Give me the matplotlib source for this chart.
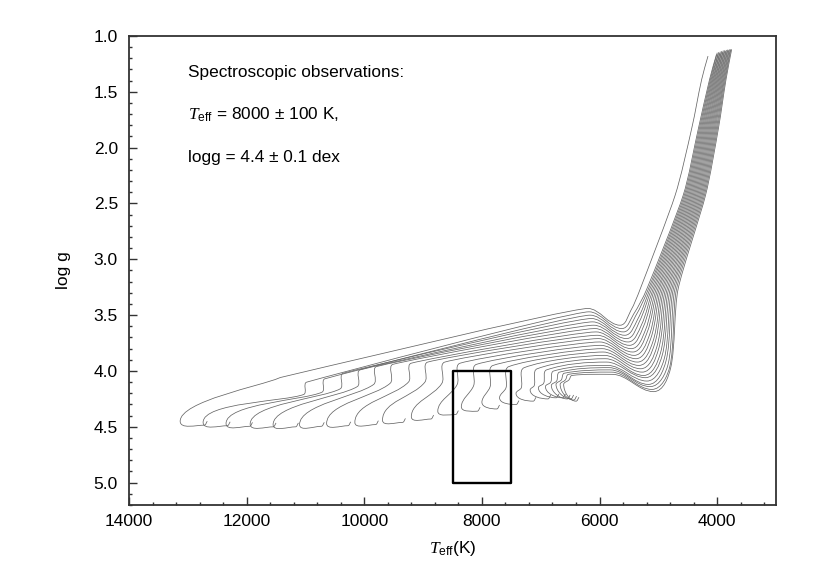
import numpy as np
import matplotlib
matplotlib.use("Agg")
import matplotlib.pyplot as plt
from matplotlib.path import Path
from matplotlib.patches import PathPatch, Rectangle
from matplotlib.ticker import MultipleLocator, FormatStrFormatter

plt.rcParams['font.family'] = ['Liberation Sans', 'DejaVu Sans']
plt.rcParams['mathtext.fontset'] = 'custom'
plt.rcParams['mathtext.rm'] = 'Liberation Sans'
plt.rcParams['mathtext.sf'] = 'Liberation Sans'
plt.rcParams['mathtext.it'] = 'Liberation Serif:italic'
plt.rcParams['mathtext.bf'] = 'Liberation Sans:bold'

# ---------------- data: key points of each evolutionary track -------------
# top of the Hayashi / giant branch
top_T = [4156, 4012, 3999, 3986, 3973, 3960, 3947, 3934, 3921, 3908, 3896, 3883, 3870, 3857, 3844, 3831, 3818, 3805, 3792, 3779, 3767, 3754]
top_g = [1.18, 1.165, 1.150, 1.160, 1.145, 1.155, 1.140, 1.150, 1.135, 1.145, 1.130, 1.140, 1.128, 1.136, 1.125, 1.132, 1.122, 1.128, 1.120, 1.125, 1.118, 1.120]
# Teff of each track where it crosses these log g levels
rgb_levels = [1.39, 1.83, 2.43, 3.27]
rgb139 = [4264, 4130, 4116, 4102, 4088, 4074, 4060, 4046, 4032, 4018, 4004, 3990, 3976, 3962, 3948, 3934, 3920, 3906, 3892, 3878, 3864, 3850]
rgb183 = [4434, 4320, 4303, 4286, 4269, 4252, 4235, 4218, 4201, 4184, 4167, 4150, 4133, 4116, 4099, 4082, 4065, 4048, 4031, 4014, 3997, 3980]
rgb243 = [4717, 4580, 4561, 4542, 4523, 4504, 4485, 4466, 4447, 4428, 4409, 4390, 4371, 4352, 4333, 4314, 4295, 4276, 4257, 4238, 4219, 4200]
rgb327 = [5312, 5200, 5173, 5147, 5120, 5093, 5067, 5040, 5013, 4987, 4960, 4933, 4907, 4880, 4853, 4827, 4800, 4773, 4747, 4720, 4693, 4666]
# bend at the bottom of the giant branch
corner_T = [5470, 5420, 5390, 5355, 5325, 5290, 5260, 5225, 5195, 5160, 5130, 5095, 5065, 5030, 5000, 4965, 4935, 4900, 4870, 4835, 4805, 4790]
corner_g = [3.46, 3.49, 3.51, 3.54, 3.56, 3.59, 3.61, 3.64, 3.66, 3.69, 3.71, 3.74, 3.76, 3.79, 3.81, 3.84, 3.86, 3.89, 3.91, 3.94, 3.96, 3.97]
# knee (largest log g of the S-bend)
knee_T = [5650, 5620, 5595, 5570, 5540, 5515, 5490, 5460, 5435, 5410, 5380, 5355, 5330, 5300, 5275, 5250, 5220, 5195, 5170, 5140, 5110, 5080]
knee_g = [3.59, 3.62, 3.65, 3.68, 3.71, 3.74, 3.77, 3.80, 3.83, 3.86, 3.89, 3.92, 3.95, 3.98, 4.01, 4.04, 4.06, 4.09, 4.12, 4.14, 4.165, 4.185]
# bump (smallest log g of the S-bend)
bump_T = [6200, 6180, 6160, 6140, 6120, 6100, 6080, 6060, 6040, 6020, 6000, 5980, 5960, 5940, 5920, 5900, 5880, 5860, 5840, 5820, 5800, 5780]
bump_g = [3.44, 3.47, 3.50, 3.53, 3.56, 3.59, 3.62, 3.65, 3.68, 3.71, 3.74, 3.77, 3.80, 3.83, 3.86, 3.89, 3.92, 3.95, 3.97, 3.99, 4.01, 4.03]
# hook on the radiative track
hook_T = [11400, 10980, 10670, 10360, 10070, 9790, 9510, 9200, 8920, 8630, 8370, 8090, 7810, 7540, 7280, 7060, 6900, 6780, 6680, 6600, 6530, 6470]
hook_top = [4.055, 4.10, 4.07, 4.02, 3.99, 3.96, 3.94, 3.93, 3.92, 3.92, 3.93, 3.94, 3.95, 3.96, 3.97, 3.98, 3.99, 4.00, 4.01, 4.02, 4.03, 4.04]
hook_bot = [4.063, 4.21, 4.19, 4.16, 4.14, 4.12, 4.11, 4.10, 4.10, 4.11, 4.12, 4.13, 4.14, 4.15, 4.15, 4.13, 4.11, 4.10, 4.09, 4.08, 4.08, 4.08]
# hottest point of each track
tip_T = [13130, 12740, 12350, 11940, 11550, 11100, 10640, 10160, 9690, 9200, 8750, 8350, 8000, 7700, 7420, 7180, 7040, 6920, 6820, 6740, 6670, 6610]
tip_g = [4.45, 4.46, 4.47, 4.475, 4.48, 4.48, 4.47, 4.46, 4.44, 4.41, 4.36, 4.32, 4.28, 4.24, 4.20, 4.17, 4.15, 4.14, 4.13, 4.12, 4.12, 4.12]
# end of each track
zams_T = [12720, 12330, 11950, 11550, 11170, 10730, 10280, 9810, 9350, 8870, 8450, 8080, 7750, 7420, 7130, 6880, 6740, 6630, 6550, 6490, 6440, 6400]
zams_g = [4.485, 4.49, 4.495, 4.50, 4.50, 4.495, 4.49, 4.48, 4.46, 4.43, 4.39, 4.36, 4.34, 4.30, 4.27, 4.25, 4.24, 4.24, 4.25, 4.25, 4.26, 4.27]

# observational box
box_teff = [7500, 8500]
box_logg = [4.0, 5.0]

# ---------------- figure ----------------
fig = plt.figure(figsize=(8.3, 5.87), dpi=100)
ax = fig.add_axes([129 / 830, 82 / 587, 647 / 830, 469 / 587])
ax.set_xlim(14000, 3000)
ax.set_ylim(5.2, 1.0)


def smooth_path(T, g, arm_max=20.0):
    P = ax.transData.transform(np.column_stack([T, g]))
    n = len(P)
    tang = np.zeros_like(P)
    for k in range(n):
        if k == 0:
            d = P[1] - P[0]
        elif k == n - 1:
            d = P[-1] - P[-2]
        else:
            a = P[k] - P[k - 1]
            b = P[k + 1] - P[k]
            d = P[k + 1] - P[k - 1]
            if a[0] * b[0] < 0:
                s = np.sign(P[k + 1][1] - P[k - 1][1]) or np.sign(b[1])
                d = np.array([0.0, s])
            elif a[1] * b[1] < 0:
                s = np.sign(P[k + 1][0] - P[k - 1][0]) or np.sign(b[0])
                d = np.array([s, 0.0])
        nrm = np.hypot(d[0], d[1])
        tang[k] = d / nrm if nrm > 0 else 0.0
    verts = [P[0]]
    codes = [Path.MOVETO]
    for k in range(n - 1):
        L = np.hypot(*(P[k + 1] - P[k]))
        arm = min(L / 3.0, arm_max)
        verts += [P[k] + tang[k] * arm, P[k + 1] - tang[k + 1] * arm, P[k + 1]]
        codes += [Path.CURVE4] * 3
    verts = ax.transData.inverted().transform(np.array(verts))
    return Path(verts, codes)


for i in range(len(tip_T)):
    T = [top_T[i], rgb139[i], rgb183[i], rgb243[i], rgb327[i], corner_T[i], knee_T[i],
         bump_T[i], hook_T[i], hook_T[i] + 50, tip_T[i], zams_T[i], zams_T[i] - 50]
    g = [top_g[i]] + rgb_levels + [corner_g[i], knee_g[i], bump_g[i], hook_top[i],
                                   hook_bot[i], tip_g[i], zams_g[i], zams_g[i] - 0.035]
    ax.add_patch(PathPatch(smooth_path(T, g), fill=False, ec='0.4', lw=0.55, zorder=2))

ax.add_patch(Rectangle((box_teff[0], box_logg[0]), box_teff[1] - box_teff[0],
                       box_logg[1] - box_logg[0], fill=False, ec='black', lw=1.7,
                       joinstyle='round', zorder=3))

# axes styling
for s in ax.spines.values():
    s.set_color('#333333')
    s.set_linewidth(1.3)
ax.xaxis.set_major_locator(MultipleLocator(2000))
ax.xaxis.set_minor_locator(MultipleLocator(400))
ax.yaxis.set_major_locator(MultipleLocator(0.5))
ax.yaxis.set_minor_locator(MultipleLocator(0.1))
ax.yaxis.set_major_formatter(FormatStrFormatter('%.1f'))
ax.tick_params(which='both', direction='in', top=False, right=False, color='#333333', width=1.0)
ax.tick_params(which='major', length=5.5)
ax.tick_params(which='minor', length=2.5)
ax.tick_params(axis='x', labelsize=12.5, pad=6.5)
ax.tick_params(axis='y', labelsize=12.5, pad=8)

ax.text(0.5, -0.1023, r'$T_{\mathrm{eff}}$(K)', transform=ax.transAxes, ha='center',
        va='baseline', fontsize=12.5)
ax.text(-0.1005, 0.5, 'log g', transform=ax.transAxes, rotation=90, ha='center',
        va='center', fontsize=12.5)

ax.text(0.0912, 0.9126, 'Spectroscopic observations:', transform=ax.transAxes,
        ha='left', va='baseline', fontsize=12.4)
ax.text(0.0912, 0.822, r'$T_{\mathrm{eff}}$ = 8000 ± 100 K,', transform=ax.transAxes,
        ha='left', va='baseline', fontsize=12.4)
ax.text(0.0912, 0.7313, 'logg = 4.4 ± 0.1 dex', transform=ax.transAxes,
        ha='left', va='baseline', fontsize=12.4)

fig.savefig('out.png', dpi=100)
